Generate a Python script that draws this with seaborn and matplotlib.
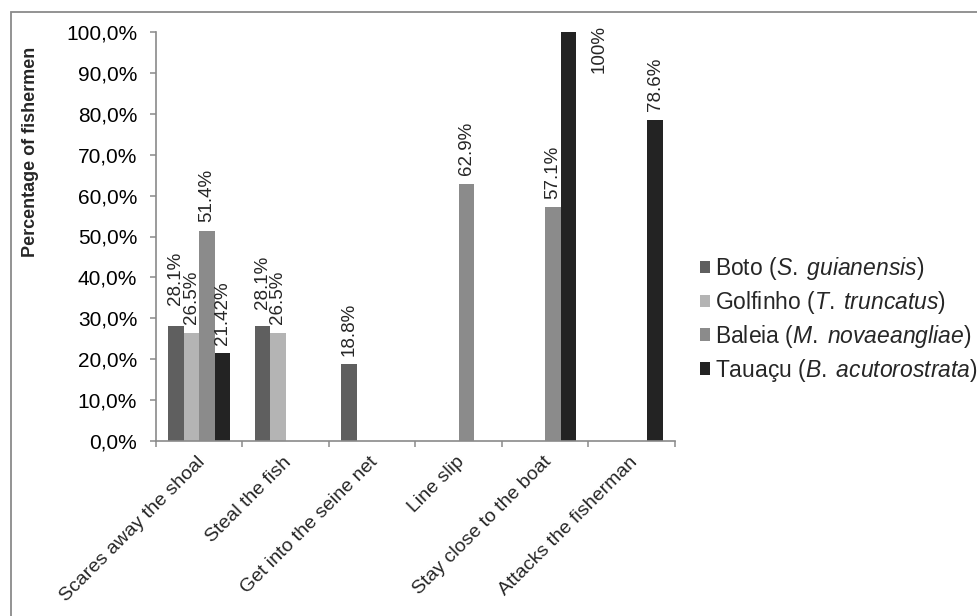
import numpy as np
import pandas as pd
import matplotlib
matplotlib.use("Agg")
import matplotlib.pyplot as plt
import matplotlib.transforms as mtransforms
from matplotlib.patches import Rectangle
from matplotlib.ticker import FuncFormatter, FixedLocator
import seaborn as sns

# Behaviours reported by fishermen, per cetacean species (% of fishermen)
categories = [
    "Scares away the shoal",
    "Steal the fish",
    "Get into the seine net",
    "Line slip",
    "Stay close to the boat",
    "Attacks the fisherman",
]
species = ["Boto", "Golfinho", "Baleia", "Tauaçu"]
scientific = ["S. guianensis", "T. truncatus", "M. novaeangliae", "B. acutorostrata"]

boto = [28.1, 28.1, 18.8, np.nan, np.nan, np.nan]
golfinho = [26.5, 26.5, np.nan, np.nan, np.nan, np.nan]
baleia = [51.4, np.nan, np.nan, 62.9, 57.1, np.nan]
tauacu = [21.42, np.nan, np.nan, np.nan, 100.0, 78.6]

y_ticks = [0, 10, 20, 30, 40, 50, 60, 70, 80, 90, 100]

colors = ["#5f5f5f", "#b4b4b4", "#8b8b8b", "#232323"]

rows = []
for sp, vals in zip(species, [boto, golfinho, baleia, tauacu]):
    for cat, v in zip(categories, vals):
        rows.append({"Behaviour": cat, "Species": sp, "Percent": v})
df = pd.DataFrame(rows).dropna()

sns.set_theme(style="white")
plt.rcParams["font.family"] = ["Liberation Sans", "DejaVu Sans"]
plt.rcParams["mathtext.fontset"] = "custom"
plt.rcParams["mathtext.rm"] = "Liberation Sans"
plt.rcParams["mathtext.it"] = "Liberation Sans:italic"
plt.rcParams["mathtext.bf"] = "Liberation Sans:bold"

W, H = 978, 616
fig = plt.figure(figsize=(W / 100, H / 100), dpi=100)
fig.patch.set_facecolor("white")

# chart-area border (runs off the right and bottom edges)
fig.patches.append(Rectangle((11 / W, -0.05), 1.1, 1 - 12 / H + 0.05,
                             transform=fig.transFigure, fill=False,
                             edgecolor="#8a8a8a", linewidth=1.3))

ax = fig.add_axes([156 / W, (H - 441) / H, 519 / W, 409 / H])

sns.barplot(data=df, x="Behaviour", y="Percent", hue="Species",
            order=categories, hue_order=species, palette=colors,
            errorbar=None, width=0.72, linewidth=0, saturation=1, ax=ax)

ax.set_xlim(-0.5, len(categories) - 0.5)
ax.set_ylim(0, 100)

# axis styling
for side in ["top", "right"]:
    ax.spines[side].set_visible(False)
for side in ["left", "bottom"]:
    ax.spines[side].set_color("#8a8a8a")
    ax.spines[side].set_linewidth(1.2)

ax.set_yticks(y_ticks)
ax.yaxis.set_major_formatter(FuncFormatter(lambda v, p: f"{v:.1f}%".replace(".", ",")))
ax.tick_params(axis="y", which="major", direction="out", length=4.5, width=1.1,
               color="#8a8a8a", pad=9, labelsize=15, labelcolor="black", left=True)

# category labels centred, tick marks between categories
ax.set_xticks(range(len(categories)))
ax.set_xticklabels(categories, rotation=45, ha="right", va="top",
                   rotation_mode="anchor", fontsize=14)
ax.xaxis.set_minor_locator(FixedLocator(np.arange(-0.5, len(categories), 1.0)))
ax.tick_params(axis="x", which="major", length=0, pad=0, bottom=False)
ax.tick_params(axis="x", which="minor", direction="out", length=4.5, width=1.1,
               color="#8a8a8a", bottom=True)
shift = mtransforms.ScaledTranslation(-2 / 72, -9 / 72, fig.dpi_scale_trans)
for lbl in ax.get_xticklabels():
    lbl.set_transform(lbl.get_transform() + shift)

ax.set_xlabel("")
ax.set_ylabel("Percentage of fishermen", fontsize=13, fontweight="bold")
ax.yaxis.label.set_va("center")
ax.yaxis.set_label_coords((31 - 156) / 519, (441 - 152) / 409)

# value labels above the bars
extra_lift = {("Boto", 0): 9, ("Boto", 1): 6}
for sp, cont in zip(species, ax.containers):
    for bar in cont:
        h = bar.get_height()
        if not np.isfinite(h) or h <= 0:
            continue
        xc = bar.get_x() + bar.get_width() / 2
        idx = int(round(xc))
        text = f"{h:g}%"
        if h >= 100:
            ax.annotate(text, (xc, h), xytext=(22, 5), textcoords="offset points",
                        rotation=90, ha="center", va="top", fontsize=13.5,
                        annotation_clip=False)
        else:
            ax.annotate(text, (xc, h),
                        xytext=(0, 6 + extra_lift.get((sp, idx), 0)),
                        textcoords="offset points", rotation=90,
                        ha="center", va="bottom", fontsize=13.5)

# legend with italic scientific names
handles = ax.get_legend_handles_labels()[0]
labels = [f"{c} $\\mathit{{({s.replace(' ', '\\;')})}}$" for c, s in zip(species, scientific)]
ax.legend(handles, labels, loc="upper left",
          bbox_to_anchor=(700 / W, 1 - 255 / H), bbox_transform=fig.transFigure,
          frameon=False, fontsize=16.5, borderpad=0, borderaxespad=0,
          handlelength=0.45, handleheight=0.45, handletextpad=0.2,
          labelspacing=0.3)

fig.savefig("out.png", dpi=100, facecolor="white")
